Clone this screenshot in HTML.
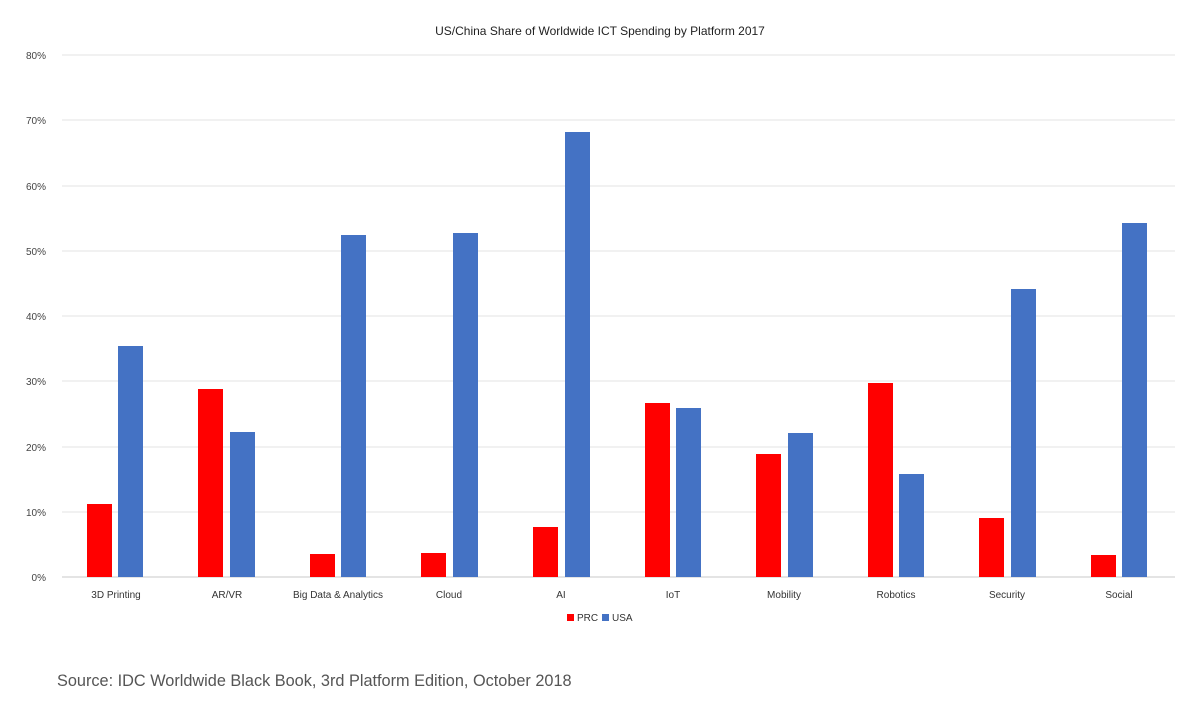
<!DOCTYPE html>
<html><head><meta charset="utf-8"><style>
body{margin:0;background:#fff;}
svg{display:block;font-family:"Liberation Sans",sans-serif;}
</style></head><body>
<svg width="1200" height="710" viewBox="0 0 1200 710" xmlns="http://www.w3.org/2000/svg">
<rect width="1200" height="710" fill="#fff"/>
<text x="600" y="35" text-anchor="middle" font-size="12" fill="#222">US/China Share of Worldwide ICT Spending by Platform 2017</text>
<g stroke="#e3e3e3" stroke-width="1">
<line x1="62" x2="1175" y1="55" y2="55"/><line x1="62" x2="1175" y1="120" y2="120"/>
<line x1="62" x2="1175" y1="186" y2="186"/><line x1="62" x2="1175" y1="251" y2="251"/>
<line x1="62" x2="1175" y1="316" y2="316"/><line x1="62" x2="1175" y1="381" y2="381"/>
<line x1="62" x2="1175" y1="447" y2="447"/><line x1="62" x2="1175" y1="512" y2="512"/>
</g>
<line x1="62" x2="1175" y1="577" y2="577" stroke="#c8c8c8"/>
<g font-size="10" fill="#444" text-anchor="end">
<text x="46" y="59">80%</text><text x="46" y="124">70%</text><text x="46" y="190">60%</text>
<text x="46" y="255">50%</text><text x="46" y="320">40%</text><text x="46" y="385">30%</text>
<text x="46" y="451">20%</text><text x="46" y="516">10%</text><text x="46" y="581">0%</text>
</g>
<g fill="#ff0000">
<rect x="87" y="504" width="25" height="73"/><rect x="198" y="389" width="25" height="188"/>
<rect x="310" y="554" width="25" height="23"/><rect x="421" y="553" width="25" height="24"/>
<rect x="533" y="527" width="25" height="50"/><rect x="645" y="403" width="25" height="174"/>
<rect x="756" y="454" width="25" height="123"/><rect x="868" y="383" width="25" height="194"/>
<rect x="979" y="518" width="25" height="59"/><rect x="1091" y="555" width="25" height="22"/>
</g>
<g fill="#4472c4">
<rect x="118" y="346" width="25" height="231"/><rect x="230" y="432" width="25" height="145"/>
<rect x="341" y="235" width="25" height="342"/><rect x="453" y="233" width="25" height="344"/>
<rect x="565" y="132" width="25" height="445"/><rect x="676" y="408" width="25" height="169"/>
<rect x="788" y="433" width="25" height="144"/><rect x="899" y="474" width="25" height="103"/>
<rect x="1011" y="289" width="25" height="288"/><rect x="1122" y="223" width="25" height="354"/>
</g>
<g font-size="10" fill="#333" text-anchor="middle">
<text x="116" y="598">3D Printing</text><text x="227" y="598">AR/VR</text>
<text x="338" y="598">Big Data &amp; Analytics</text><text x="449" y="598">Cloud</text>
<text x="561" y="598">AI</text><text x="673" y="598">IoT</text>
<text x="784" y="598">Mobility</text><text x="896" y="598">Robotics</text>
<text x="1007" y="598">Security</text><text x="1119" y="598">Social</text>
</g>
<rect x="567" y="614" width="7" height="7" fill="#ff0000"/>
<text x="577" y="621" font-size="10" fill="#333">PRC</text>
<rect x="602" y="614" width="7" height="7" fill="#4472c4"/>
<text x="612" y="621" font-size="10" fill="#333">USA</text>
<text x="57" y="686" font-size="16.3" fill="#555">Source:  IDC Worldwide Black Book, 3rd Platform Edition, October 2018</text>
</svg>
</body></html>
